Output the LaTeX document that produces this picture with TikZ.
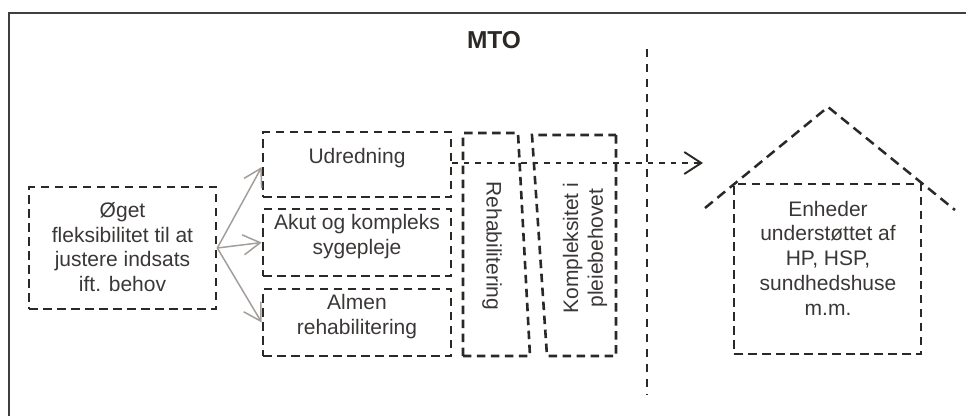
\documentclass[tikz,border=0pt]{standalone}
\usepackage{fontspec}
\setmainfont{Liberation Sans}
\usetikzlibrary{arrows.meta}
\definecolor{ink}{HTML}{2B2826}
\definecolor{txt}{HTML}{3A3736}
\definecolor{arr}{HTML}{A39E9A}
\definecolor{frame}{HTML}{3F3F3F}
\begin{document}
\begin{tikzpicture}[x=1pt,y=-1pt,
  box/.style={draw=ink,line width=2.6pt,dash pattern=on 8.5pt off 5.5pt,minimum width=#1,inner sep=0pt},
  lbl/.style={text=txt,font=\fontsize{21}{24.8}\selectfont,align=center,inner sep=0pt},
  grayarrow/.style={draw=arr,line width=1.5pt,-{Straight Barb[length=17pt,width=20pt]}},
  flow/.style={draw=ink,line width=1.9pt,dash pattern=on 5.5pt off 6pt,-{Straight Barb[length=17pt,width=22pt]}},
  divider/.style={draw=ink,line width=2.2pt,dash pattern=on 8pt off 7pt},
  roof/.style={draw=ink,line width=2.5pt,dash pattern=on 10pt off 6pt},
  slant/.style={draw=ink,line width=2.6pt,dash pattern=on 8.5pt off 5.5pt}]
\useasboundingbox (0,0) rectangle (966,416);
% outer frame
\draw[frame,line width=2.2pt] (9,416) -- (9,13) -- (966,13);
% title
\node[text=ink,font=\fontsize{24.5}{28}\selectfont\bfseries,inner sep=0pt] (mto) at (494,40) {MTO};
% left box
\node[box=187pt,minimum height=122pt] (left) at (122.5,248) {};
\node[lbl] (lefttxt) at (122.5,247) {Øget\\fleksibilitet til at\\justere indsats\\ift. behov};
% column of three boxes
\node[box=188pt,minimum height=65pt] (udr) at (357,164.5) {};
\node[lbl] (udrtxt) at (357,158) {Udredning};
\node[box=188pt,minimum height=67pt] (akut) at (357,242.5) {};
\node[lbl] (akuttxt) at (357,236.5) {Akut og kompleks\\sygepleje};
\node[box=188pt,minimum height=67pt] (almen) at (357,322.5) {};
\node[lbl] (almentxt) at (357,316.5) {Almen\\rehabilitering};
% slanted boxes
\draw[slant] (463,356) -- (463,133) -- (518,133) -- (530,356) -- cycle;
\node[lbl,rotate=-90] (rehab) at (492,246) {Rehabilitering};
\draw[slant] (616,135) -- (616,356) -- (547,356) -- (532,135) -- cycle;
\node[lbl,rotate=90] (kompl) at (585,248) {Kompleksitet i\\pleiebehovet};
% arrows from left box
\draw[grayarrow] (left.east) -- (udr.west |- 0,167);
\draw[grayarrow] (left.east) -- (akut.west);
\draw[grayarrow] (left.east) -- (almen.west);
% divider
\coordinate (dtop) at (647,49);
\coordinate (dbot) at (647,395);
\draw[divider] (dtop) -- (dbot);
% flow arrow
\coordinate (fstart) at (452,163);
\coordinate (fend) at (703,163);
\draw[flow] (fstart) -- (fend);
% house
\coordinate (rl) at (705,208);
\coordinate (apex) at (828,107);
\coordinate (rr) at (955,210);
\draw[roof] (rl) -- (apex) -- (rr);
\node[box=187pt,minimum height=170pt] (house) at (827.5,269) {};
\node[lbl] (housetxt) at (828,258) {Enheder\\understøttet af\\HP, HSP,\\sundhedshuse\\m.m.};
\end{tikzpicture}
\end{document}
